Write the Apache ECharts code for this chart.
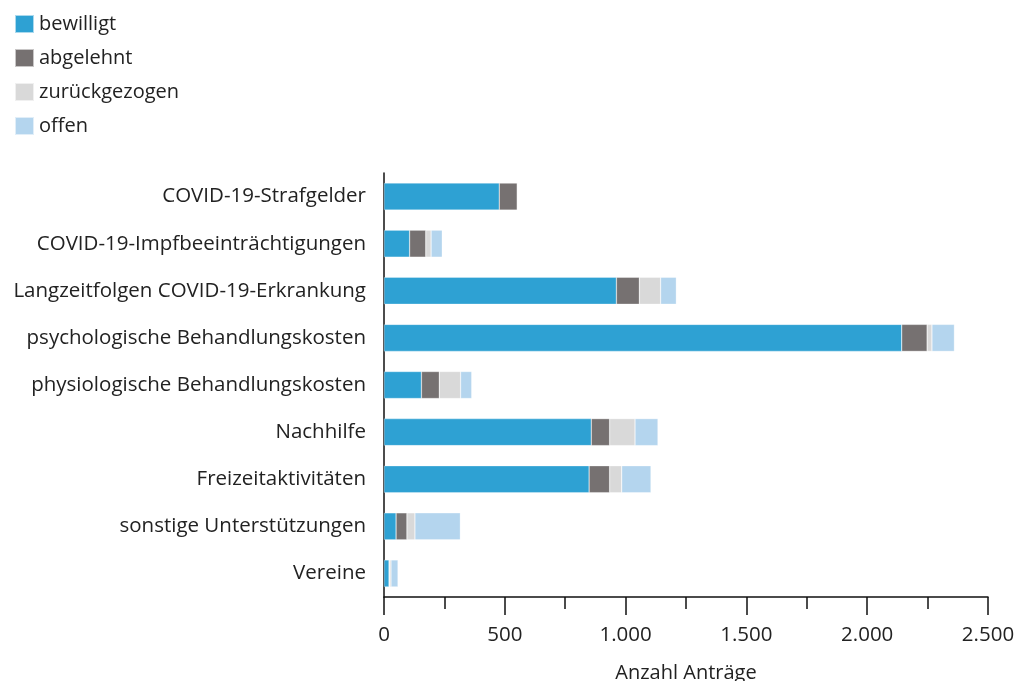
<!DOCTYPE html>
<html><head><meta charset="utf-8">
<script src="https://cdn.jsdelivr.net/npm/echarts@6/dist/echarts.min.js"></script>
<style>html,body{margin:0;padding:0;background:#fff}#c{width:1017px;height:681px}</style>
</head><body><div id="c"></div>
<script>
const categories = ["COVID-19-Strafgelder","COVID-19-Impfbeeinträchtigungen","Langzeitfolgen COVID-19-Erkrankung","psychologische Behandlungskosten","physiologische Behandlungskosten","Nachhilfe","Freizeitaktivitäten","sonstige Unterstützungen","Vereine"];
const bewilligt = [477,106,962,2143,155,858,849,50,21];
const abgelehnt = [75,67,95,105,74,76,85,45,2];
const zurueckgezogen = [0,22,88,20,88,105,50,33,6];
const offen = [0,46,65,93,46,95,121,188,29];
const seriesNames = ["bewilligt","abgelehnt","zurückgezogen","offen"];
const colors = ["#2ea1d3","#767171","#d9d9d9","#b4d5ee"];
const data = [bewilligt, abgelehnt, zurueckgezogen, offen];
const font = "'Open Sans', sans-serif";
const chart = echarts.init(document.getElementById('c'));
chart.setOption({
  animation:false,
  textStyle:{fontFamily:font},
  legend:{
    orient:'vertical', left:9, top:9, itemWidth:19, itemHeight:18, itemGap:14,
    icon:'rect', data:seriesNames,
    textStyle:{fontSize:20, lineHeight:20, color:'#222', fontFamily:font, padding:[0,0,0,0]}
  },
  grid:{left:384, right:29, top:173, bottom:84, containLabel:false, outerBoundsMode:'none'},
  xAxis:{
    type:'value', min:0, max:2500, interval:500,
    name:'Anzahl Anträge', nameLocation:'middle', nameGap:66,
    nameTextStyle:{fontSize:20, color:'#222', fontFamily:font},
    axisLine:{show:true, lineStyle:{color:'#111', width:1.5}},
    axisTick:{show:true, length:18, lineStyle:{color:'#111', width:1.5}},
    minorTick:{show:true, splitNumber:2, length:12, lineStyle:{color:'#111', width:1.5}},
    splitLine:{show:false},
    axisLabel:{fontSize:20.5, color:'#222', fontFamily:font, margin:28,
      formatter:v=>String(v).replace(/\B(?=(\d{3})+(?!\d))/g,'.')}
  },
  yAxis:{
    type:'category', data:categories, inverse:true,
    axisLine:{show:true, lineStyle:{color:'#111', width:1.5}},
    axisTick:{show:false},
    axisLabel:{fontSize:20.5, color:'#222', fontFamily:font, margin:18}
  },
  series: seriesNames.map((n,i)=>({
    name:n, type:'bar', stack:'total', data:data[i], barWidth:27,
    itemStyle:{color:colors[i], borderColor:'rgba(255,255,255,0.6)', borderWidth:0.5}
  }))
});
</script></body></html>
